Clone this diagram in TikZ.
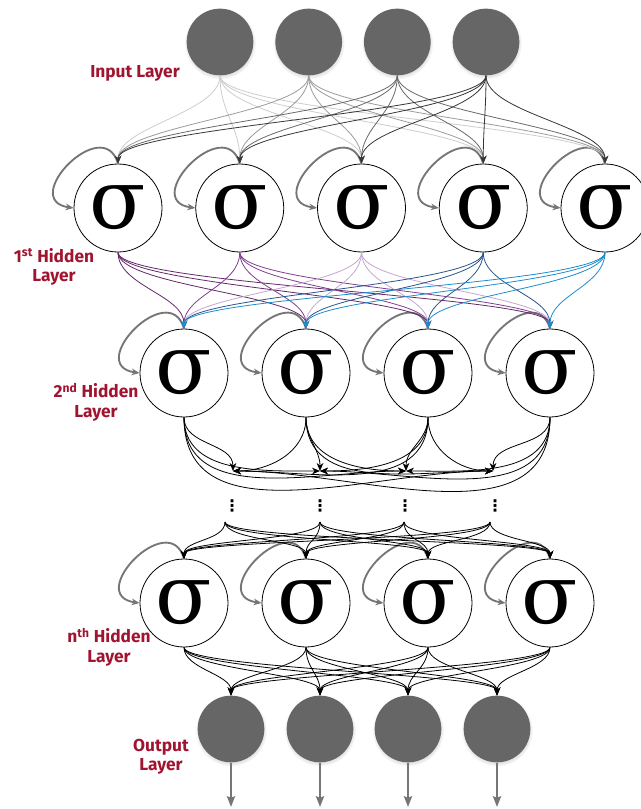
\documentclass[tikz,border=0pt]{standalone}
\usepackage{fontspec}
\setsansfont{Fira Sans}
\newfontfamily\sigmafont{DejaVu Serif}
\newfontfamily\dotsfont{DejaVu Sans}
\usepackage{tikz}
\usetikzlibrary{arrows.meta,shadows}
\definecolor{nnred}{RGB}{160,20,48}
\definecolor{nngray}{RGB}{102,102,102}
\definecolor{nnloop}{RGB}{118,118,118}
\definecolor{inA}{RGB}{205,205,205}
\definecolor{inB}{RGB}{155,155,155}
\definecolor{inC}{RGB}{105,105,105}
\definecolor{inD}{RGB}{55,55,55}
\definecolor{hA}{RGB}{98,40,104}
\definecolor{hB}{RGB}{128,62,142}
\definecolor{hC}{RGB}{196,166,210}
\definecolor{hD}{RGB}{40,84,142}
\definecolor{hE}{RGB}{28,140,204}

\begin{document}
\begin{tikzpicture}[x=0.75pt, y=-0.75pt,
  gnode/.style={circle, fill=nngray, minimum size=50pt, inner sep=0pt,
    circular drop shadow={shadow xshift=0pt, shadow yshift=-1pt, shadow scale=1.08, opacity=0.3}},
  neuron/.style={circle, draw=black, line width=0.6pt, fill=white, minimum size=66pt, inner sep=0pt, font=\sigmafont\fontsize{62}{62}\selectfont},
  lbl/.style={text=nnred, font=\sffamily\bfseries\fontsize{13}{14.5}\selectfont, align=center},
  wire/.style={-{Stealth[length=6pt, width=5pt]}, line width=0.6pt},
  selfloop/.style={-{Stealth[length=6pt, width=5pt]}, draw=nnloop, line width=1.4pt},
  outarr/.style={-{Stealth[length=8pt, width=6pt, inset=1pt]}, draw=nnloop, line width=1.6pt}
]
\useasboundingbox (0,0) rectangle (641,809);

% layers
\foreach \i/\x in {1/220, 2/308.7, 3/397.3, 4/486}
  \node[gnode] (in\i) at (\x,42) {};
\foreach \j/\x in {1/118, 2/239.75, 3/361.5, 4/483.25, 5/605}
  \node[neuron] (ha\j) at (\x,208) {σ};
\foreach \k/\x in {1/184, 2/306, 3/428, 4/550} {
  \node[neuron] (hb\k) at (\x,373) {σ};
  \node[neuron] (hc\k) at (\x,603) {σ};
}
\foreach \m/\x/\ax/\bx in {1/232/233/225, 2/320/320/320, 3/405/406/404, 4/495/493/490} {
  \coordinate (a\m) at (\ax,471);
  \node[font=\dotsfont\bfseries\fontsize{12}{12}\selectfont, inner sep=0pt] (dot\m) at (\x,506) {⋮};
  \coordinate (b\m) at (\bx,522);
}
\foreach \m/\x in {1/231, 2/320, 3/408, 4/497} {
  \node[gnode] (out\m) at (\x,729) {};
  \coordinate (end\m) at (\x,807);
}

\node[lbl] (lblin) at (135,73) {Input Layer};
\node[lbl] (lblha) at (54,267) {1\textsuperscript{st} Hidden\\Layer};
\node[lbl] (lblhb) at (96,402) {2\textsuperscript{nd} Hidden\\Layer};
\node[lbl] (lblhc) at (109,647) {n\textsuperscript{th} Hidden\\Layer};
\node[lbl] (lblout) at (161,757) {Output\\Layer};

% recurrent loops
\foreach \n in {ha1,ha2,ha3,ha4,ha5,hb1,hb2,hb3,hb4,hc1,hc2,hc3,hc4}
  \draw[selfloop] (\n.north) to[out=106, in=172, out distance=40pt, in distance=42pt] (\n.west);

% connections
\foreach \i/\c in {1/inA, 2/inB, 3/inC, 4/inD}
  \foreach \j in {1,...,5}
    \draw[wire, draw=\c] (in\i.south) to[out=-90, in=90, distance=28pt] (ha\j.north);
\foreach \j/\c in {1/hA, 2/hB, 3/hC, 4/hD, 5/hE}
  \foreach \k in {1,...,4}
    \draw[wire, draw=\c] (ha\j.south) to[out=-90, in=90, distance=25pt] (hb\k.north);
\foreach \k in {1,...,4}
  \foreach \m in {1,...,4} {
    \pgfmathtruncatemacro{\ang}{\m>\k ? 180 : (\m<\k ? 0 : 90)}
    \draw[wire] (hb\k.south) to[out=-90, in=\ang] (a\m);
  }
\foreach \m in {1,...,4}
  \foreach \k in {1,...,4}
    \draw[wire] (b\m) to[out=-90, in=90, distance=14pt] (hc\k.north);
\foreach \k in {1,...,4}
  \foreach \m in {1,...,4}
    \draw[wire] (hc\k.south) to[out=-90, in=90, distance=16pt] (out\m.north);
\foreach \m in {1,...,4}
  \draw[outarr] (out\m.south) -- (end\m);
\end{tikzpicture}
\end{document}
